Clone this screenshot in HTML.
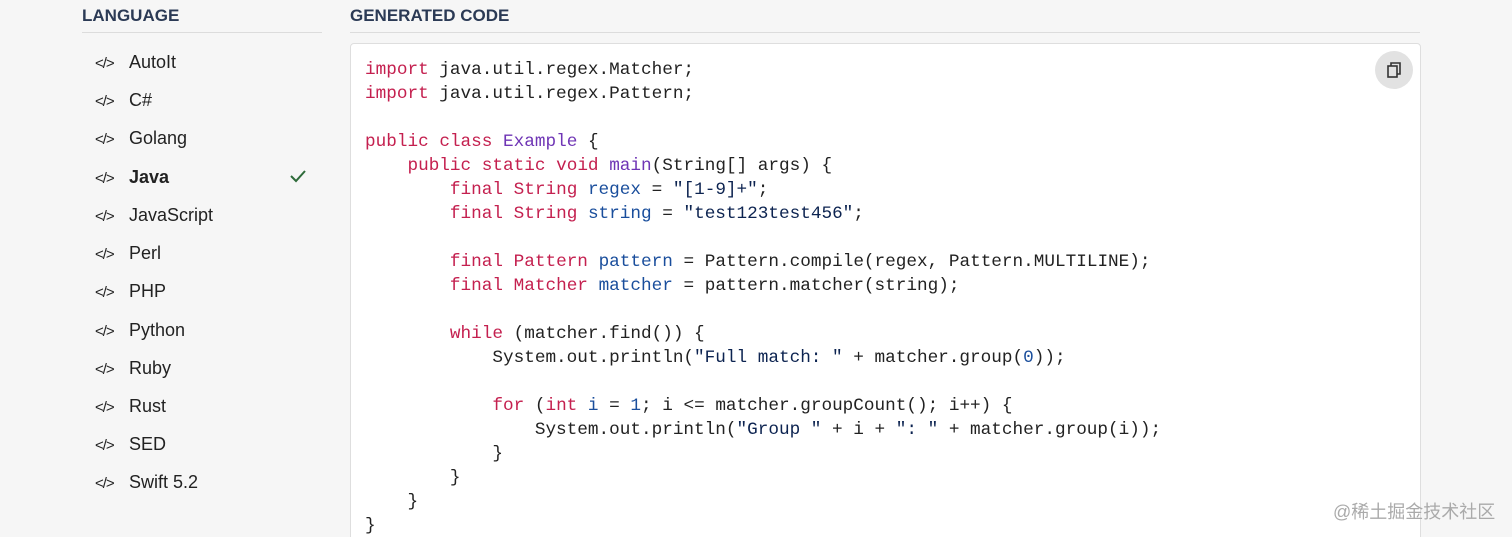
<!DOCTYPE html>
<html><head><meta charset="utf-8"><style>
html,body{margin:0;width:1512px;height:537px;overflow:hidden}
body{background:#f6f6f6;position:relative;font-family:"Liberation Sans",sans-serif;}
.h{position:absolute;top:6px;font-size:17px;font-weight:bold;color:#2b3a55;letter-spacing:0}
.line{position:absolute;top:32px;height:1px;background:#dcdcdc}
.item{position:absolute;left:95px;font-size:18px;color:#222;height:24px;line-height:24px}
.item .ic{display:inline-block;width:34px;font-size:15px;letter-spacing:-1px}
.panel{position:absolute;left:350px;top:43px;width:1069px;height:500px;background:#fff;border:1px solid #dedede;border-radius:4px}
pre{position:absolute;left:365px;top:58px;margin:0;font-family:"Liberation Mono",monospace;font-size:17.7px;line-height:24px;color:#222}
.k{color:#c4204f}.f{color:#6f35b5}.v{color:#1a4e9c}.s{color:#0c2350}
.copy{position:absolute;left:1375px;top:51px;width:38px;height:38px;border-radius:50%;background:#e2e2e2}
</style></head><body>
<div class="h" style="left:82px">LANGUAGE</div>
<div class="h" style="left:350px">GENERATED CODE</div>
<div class="line" style="left:82px;width:240px"></div>
<div class="line" style="left:350px;width:1070px"></div>
<div class="item" style="top:50px"><span class="ic">&lt;/&gt;</span>AutoIt</div>
<div class="item" style="top:88px"><span class="ic">&lt;/&gt;</span>C#</div>
<div class="item" style="top:126px"><span class="ic">&lt;/&gt;</span>Golang</div>
<div class="item" style="top:165px;font-weight:bold"><span class="ic" style="font-weight:normal">&lt;/&gt;</span>Java</div>
<div class="item" style="top:203px"><span class="ic">&lt;/&gt;</span>JavaScript</div>
<div class="item" style="top:241px"><span class="ic">&lt;/&gt;</span>Perl</div>
<div class="item" style="top:279px"><span class="ic">&lt;/&gt;</span>PHP</div>
<div class="item" style="top:318px"><span class="ic">&lt;/&gt;</span>Python</div>
<div class="item" style="top:356px"><span class="ic">&lt;/&gt;</span>Ruby</div>
<div class="item" style="top:394px"><span class="ic">&lt;/&gt;</span>Rust</div>
<div class="item" style="top:432px"><span class="ic">&lt;/&gt;</span>SED</div>
<div class="item" style="top:470px"><span class="ic">&lt;/&gt;</span>Swift 5.2</div>
<svg style="position:absolute;left:290px;top:169px" width="16" height="14"><path d="M1 7 L6 12 L15 2" fill="none" stroke="#2e6b3a" stroke-width="2"/></svg>
<div class="panel"></div>
<div class="copy"><svg width="38" height="38"><rect x="13" y="15" width="9" height="11" fill="none" stroke="#333" stroke-width="1.6"/><path d="M16 15 V12 H25 V23 H22" fill="none" stroke="#333" stroke-width="1.6"/></svg></div>
<pre><span class="k">import</span> java.util.regex.Matcher;
<span class="k">import</span> java.util.regex.Pattern;

<span class="k">public</span> <span class="k">class</span> <span class="f">Example</span> {
    <span class="k">public</span> <span class="k">static</span> <span class="k">void</span> <span class="f">main</span>(String[] args) {
        <span class="k">final</span> <span class="k">String</span> <span class="v">regex</span> = <span class="s">"[1-9]+"</span>;
        <span class="k">final</span> <span class="k">String</span> <span class="v">string</span> = <span class="s">"test123test456"</span>;

        <span class="k">final</span> <span class="k">Pattern</span> <span class="v">pattern</span> = Pattern.compile(regex, Pattern.MULTILINE);
        <span class="k">final</span> <span class="k">Matcher</span> <span class="v">matcher</span> = pattern.matcher(string);

        <span class="k">while</span> (matcher.find()) {
            System.out.println(<span class="s">"Full match: "</span> + matcher.group(<span class="v">0</span>));

            <span class="k">for</span> (<span class="k">int</span> <span class="v">i</span> = <span class="v">1</span>; i &lt;= matcher.groupCount(); i++) {
                System.out.println(<span class="s">"Group "</span> + i + <span class="s">": "</span> + matcher.group(i));
            }
        }
    }
}</pre>
<div style="position:absolute;left:1333px;top:498px;font-size:18px;color:#aaa;font-family:'Liberation Sans','Noto Sans CJK SC',sans-serif">@稀土掘金技术社区</div>
</body></html>
